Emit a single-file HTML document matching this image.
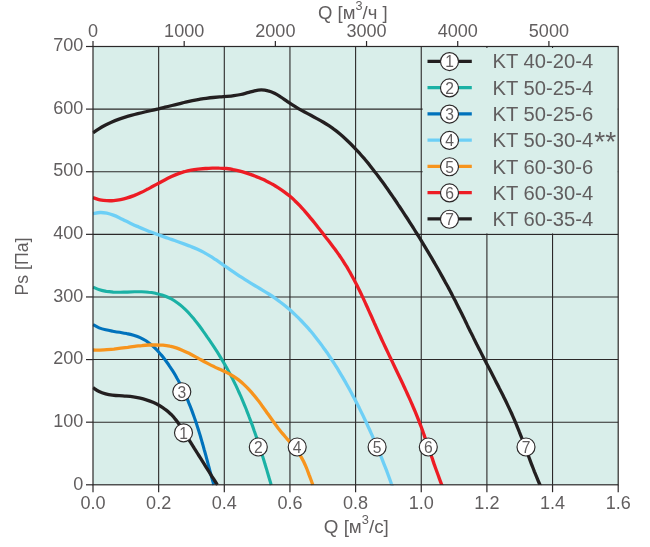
<!DOCTYPE html>
<html lang="ru"><head><meta charset="utf-8"><title>KT fan curves</title>
<style>html,body{margin:0;padding:0;background:#fff}svg{display:block}</style></head>
<body>
<svg width="650" height="547" viewBox="0 0 650 547" font-family='"Liberation Sans", "DejaVu Sans", sans-serif' fill="#615e5f">
<rect x="0" y="0" width="650" height="547" fill="#ffffff"/>
<rect x="93.0" y="46.5" width="525.2" height="438.3" fill="#d9eeea"/>
<g stroke="#2b2829" stroke-width="1.1" fill="none">
<line x1="158.65" y1="46.5" x2="158.65" y2="484.8"/>
<line x1="224.30" y1="46.5" x2="224.30" y2="484.8"/>
<line x1="289.95" y1="46.5" x2="289.95" y2="484.8"/>
<line x1="355.60" y1="46.5" x2="355.60" y2="484.8"/>
<line x1="421.25" y1="46.5" x2="421.25" y2="484.8"/>
<line x1="486.90" y1="46.5" x2="486.90" y2="484.8"/>
<line x1="552.55" y1="46.5" x2="552.55" y2="484.8"/>
<line x1="93.0" y1="422.19" x2="618.2" y2="422.19"/>
<line x1="93.0" y1="359.57" x2="618.2" y2="359.57"/>
<line x1="93.0" y1="296.96" x2="618.2" y2="296.96"/>
<line x1="93.0" y1="234.34" x2="618.2" y2="234.34"/>
<line x1="93.0" y1="171.73" x2="618.2" y2="171.73"/>
<line x1="93.0" y1="109.11" x2="618.2" y2="109.11"/>
</g>
<rect x="422.6" y="48" width="195.2" height="185.4" fill="#d9eeea"/>
<defs><clipPath id="cp"><rect x="92.5" y="46.5" width="526.2" height="438.90000000000003"/></clipPath></defs>
<g fill="none" stroke-linecap="butt" stroke-linejoin="round" clip-path="url(#cp)">
<path d="M93.0,324.6C94.0,325.1 97.0,326.9 99.1,327.8C101.3,328.7 103.5,329.3 105.7,329.8C108.0,330.4 110.4,330.8 112.7,331.2C115.0,331.6 117.4,332.0 119.8,332.3C122.1,332.7 124.5,333.1 126.8,333.6C129.1,334.0 131.4,334.5 133.6,335.2C135.8,335.9 138.0,336.6 140.1,337.6C142.1,338.5 144.1,339.6 146.0,340.8C147.9,342.1 149.7,343.5 151.5,344.9C153.3,346.4 154.9,348.0 156.6,349.7C158.2,351.4 159.7,353.1 161.2,354.9C162.8,356.7 164.2,358.6 165.6,360.5C167.0,362.4 168.4,364.3 169.7,366.3C171.0,368.2 172.2,370.2 173.5,372.2C174.7,374.1 175.9,376.2 177.0,378.2C178.2,380.2 179.3,382.3 180.3,384.3C181.4,386.4 182.4,388.5 183.4,390.6C184.4,392.7 185.4,394.8 186.3,396.9C187.3,399.1 188.2,401.2 189.0,403.4C189.9,405.5 190.8,407.7 191.6,409.9C192.4,412.1 193.2,414.3 194.0,416.5C194.8,418.7 195.5,420.9 196.3,423.1C197.0,425.3 197.7,427.6 198.4,429.8C199.1,432.0 199.8,434.3 200.5,436.5C201.1,438.8 201.8,441.0 202.4,443.3C203.1,445.5 203.7,447.8 204.3,450.0C205.0,452.3 205.6,454.6 206.2,456.8C206.8,459.1 207.4,461.3 208.0,463.6C208.6,465.8 209.2,468.1 209.8,470.3C210.4,472.6 211.0,474.8 211.6,477.1C212.2,479.3 213.1,482.4 213.5,483.8C213.8,485.1 213.7,484.8 213.8,485.0" stroke="#0072bc" stroke-width="3.1"/>
<path d="M93.0,387.7C94.0,388.3 97.0,390.5 99.1,391.5C101.2,392.5 103.4,393.2 105.6,393.8C107.8,394.4 110.0,394.8 112.3,395.1C114.6,395.4 116.9,395.6 119.2,395.7C121.5,395.9 123.9,396.0 126.2,396.2C128.6,396.4 130.9,396.6 133.3,396.9C135.6,397.2 137.9,397.7 140.2,398.2C142.5,398.7 144.8,399.4 147.0,400.1C149.3,400.8 151.5,401.7 153.6,402.6C155.8,403.6 157.8,404.7 159.8,405.8C161.9,407.0 163.8,408.3 165.6,409.7C167.5,411.1 169.2,412.6 170.9,414.2C172.5,415.8 174.1,417.6 175.5,419.4C177.0,421.2 178.3,423.1 179.6,425.0C180.9,426.9 182.1,428.9 183.3,430.9C184.6,432.9 185.8,434.9 187.0,436.8C188.3,438.8 189.5,440.7 190.8,442.7C192.0,444.7 193.3,446.6 194.5,448.6C195.8,450.6 197.0,452.5 198.2,454.5C199.5,456.5 200.7,458.5 201.9,460.4C203.2,462.4 204.4,464.4 205.6,466.4C206.9,468.4 208.1,470.4 209.4,472.3C210.6,474.3 211.8,476.3 213.1,478.2C214.4,480.2 216.2,483.0 216.9,484.1C217.6,485.2 217.4,484.9 217.5,485.0" stroke="#231f20" stroke-width="3.3"/>
<path d="M93.0,287.2C94.1,287.6 97.3,289.1 99.5,289.8C101.7,290.5 104.0,291.0 106.3,291.4C108.6,291.7 110.9,291.9 113.2,292.1C115.5,292.2 117.9,292.2 120.3,292.2C122.6,292.2 125.0,292.1 127.4,292.1C129.8,292.0 132.2,291.9 134.5,291.8C136.9,291.8 139.3,291.8 141.6,291.8C144.0,291.9 146.3,292.0 148.6,292.3C151.0,292.5 153.3,292.9 155.5,293.3C157.7,293.8 160.0,294.3 162.1,295.0C164.3,295.7 166.4,296.5 168.4,297.5C170.5,298.4 172.5,299.5 174.4,300.7C176.3,302.0 178.2,303.3 180.0,304.8C181.8,306.2 183.5,307.8 185.2,309.4C186.9,311.0 188.5,312.7 190.1,314.5C191.7,316.2 193.2,318.1 194.7,319.9C196.2,321.7 197.7,323.6 199.1,325.5C200.5,327.4 201.9,329.3 203.3,331.3C204.7,333.2 206.0,335.1 207.3,337.1C208.7,339.0 210.0,340.9 211.3,342.9C212.6,344.8 213.9,346.8 215.1,348.7C216.4,350.7 217.7,352.7 218.9,354.6C220.1,356.6 221.3,358.6 222.5,360.6C223.7,362.6 224.9,364.6 226.0,366.6C227.2,368.6 228.3,370.7 229.4,372.7C230.5,374.8 231.5,376.8 232.6,378.9C233.6,381.0 234.7,383.1 235.7,385.1C236.7,387.2 237.7,389.4 238.6,391.5C239.6,393.6 240.5,395.7 241.5,397.8C242.4,400.0 243.3,402.1 244.2,404.3C245.1,406.4 245.9,408.6 246.8,410.8C247.7,412.9 248.5,415.1 249.3,417.3C250.2,419.5 251.0,421.7 251.8,423.9C252.6,426.1 253.4,428.3 254.1,430.5C254.9,432.7 255.7,434.9 256.4,437.1C257.2,439.3 257.9,441.5 258.6,443.8C259.4,446.0 260.1,448.2 260.8,450.5C261.5,452.7 262.2,454.9 262.9,457.1C263.6,459.4 264.3,461.6 264.9,463.8C265.6,466.1 266.3,468.3 267.0,470.6C267.6,472.8 268.3,475.0 268.9,477.3C269.6,479.5 270.5,482.7 270.9,483.9C271.3,485.2 271.1,484.8 271.2,485.0" stroke="#1bb1a5" stroke-width="3.1"/>
<path d="M93.0,350.0C94.2,350.0 97.7,350.1 100.0,350.1C102.4,350.0 104.7,349.9 107.0,349.7C109.3,349.5 111.6,349.3 113.9,349.1C116.2,348.8 118.5,348.5 120.8,348.2C123.2,347.9 125.5,347.6 127.8,347.3C130.1,346.9 132.4,346.6 134.7,346.3C137.0,346.1 139.4,345.8 141.7,345.6C144.0,345.3 146.4,345.1 148.8,345.0C151.1,344.9 153.5,344.8 155.8,344.8C158.2,344.9 160.5,345.0 162.9,345.2C165.2,345.4 167.5,345.7 169.7,346.2C172.0,346.6 174.2,347.2 176.3,347.9C178.5,348.6 180.6,349.5 182.7,350.4C184.9,351.3 186.9,352.3 189.0,353.3C191.1,354.4 193.1,355.5 195.2,356.6C197.2,357.7 199.3,358.9 201.4,360.0C203.4,361.2 205.5,362.3 207.6,363.4C209.7,364.5 211.8,365.6 214.0,366.6C216.1,367.7 218.3,368.6 220.5,369.6C222.6,370.6 224.8,371.5 226.9,372.6C229.0,373.7 231.0,374.8 232.9,376.0C234.9,377.2 236.8,378.5 238.6,379.9C240.4,381.3 242.1,382.8 243.8,384.4C245.4,385.9 247.1,387.5 248.6,389.2C250.2,390.9 251.7,392.6 253.2,394.4C254.7,396.1 256.2,398.0 257.6,399.8C259.1,401.6 260.5,403.5 261.8,405.4C263.2,407.3 264.6,409.2 266.0,411.2C267.3,413.1 268.7,415.0 270.1,417.0C271.4,418.9 272.8,420.8 274.2,422.7C275.6,424.6 277.0,426.5 278.4,428.4C279.8,430.2 281.3,432.1 282.8,433.9C284.3,435.7 285.8,437.4 287.3,439.2C288.8,440.9 290.4,442.6 291.8,444.4C293.3,446.2 294.8,447.9 296.2,449.8C297.6,451.6 298.9,453.4 300.2,455.4C301.4,457.4 302.5,459.4 303.6,461.5C304.6,463.6 305.6,465.8 306.5,468.0C307.4,470.2 308.2,472.4 309.0,474.6C309.9,476.8 310.8,479.5 311.5,481.2C312.1,483.0 312.7,484.4 312.9,485.0" stroke="#f7941d" stroke-width="3.3"/>
<path d="M93.0,213.7C94.2,213.5 97.8,212.6 100.1,212.5C102.4,212.4 104.6,212.7 106.8,213.1C109.0,213.6 111.2,214.3 113.3,215.1C115.5,215.9 117.6,216.9 119.7,217.9C121.8,218.9 123.8,220.1 125.9,221.1C128.1,222.1 130.2,223.2 132.3,224.2C134.4,225.2 136.6,226.1 138.7,227.0C140.8,228.0 143.0,228.9 145.2,229.7C147.3,230.6 149.5,231.5 151.7,232.3C153.9,233.1 156.1,233.9 158.2,234.7C160.4,235.5 162.6,236.3 164.8,237.1C167.0,237.9 169.2,238.6 171.4,239.4C173.6,240.2 175.8,240.9 178.0,241.7C180.2,242.5 182.4,243.3 184.6,244.1C186.8,244.9 189.0,245.7 191.1,246.6C193.3,247.4 195.4,248.3 197.5,249.3C199.6,250.3 201.7,251.3 203.8,252.4C205.8,253.5 207.8,254.7 209.8,255.9C211.8,257.1 213.7,258.4 215.7,259.7C217.6,261.0 219.6,262.3 221.5,263.6C223.4,265.0 225.3,266.3 227.3,267.6C229.2,269.0 231.1,270.3 233.0,271.6C235.0,273.0 236.9,274.3 238.8,275.6C240.8,276.9 242.7,278.2 244.7,279.4C246.7,280.7 248.7,281.9 250.7,283.1C252.7,284.4 254.7,285.5 256.7,286.7C258.7,287.9 260.8,289.1 262.8,290.3C264.8,291.5 266.8,292.7 268.8,294.0C270.7,295.2 272.7,296.5 274.6,297.9C276.5,299.2 278.4,300.6 280.2,302.0C282.1,303.4 283.9,304.8 285.7,306.3C287.5,307.8 289.2,309.3 291.0,310.8C292.7,312.4 294.4,314.0 296.1,315.6C297.7,317.2 299.4,318.8 301.0,320.5C302.6,322.2 304.2,323.9 305.8,325.6C307.3,327.3 308.9,329.1 310.4,330.8C311.9,332.6 313.4,334.4 314.8,336.2C316.3,338.1 317.7,339.9 319.1,341.8C320.6,343.6 321.9,345.5 323.3,347.4C324.7,349.3 326.0,351.2 327.4,353.1C328.7,355.1 330.0,357.0 331.3,359.0C332.6,360.9 333.8,362.9 335.1,364.9C336.3,366.8 337.6,368.8 338.8,370.8C340.0,372.8 341.2,374.8 342.4,376.9C343.6,378.9 344.7,380.9 345.9,382.9C347.0,385.0 348.2,387.0 349.3,389.1C350.4,391.1 351.6,393.2 352.6,395.2C353.7,397.3 354.8,399.3 355.9,401.4C357.0,403.5 358.0,405.5 359.1,407.6C360.1,409.7 361.1,411.8 362.2,413.9C363.2,416.0 364.2,418.1 365.2,420.2C366.2,422.3 367.2,424.4 368.1,426.5C369.1,428.6 370.1,430.8 371.0,432.9C372.0,435.0 372.9,437.1 373.8,439.3C374.7,441.4 375.7,443.6 376.6,445.7C377.5,447.9 378.4,450.0 379.3,452.2C380.1,454.3 381.0,456.5 381.9,458.7C382.7,460.8 383.6,463.0 384.4,465.2C385.3,467.3 386.1,469.5 387.0,471.7C387.8,473.9 388.6,476.1 389.4,478.3C390.2,480.5 391.4,483.7 391.8,484.9C392.3,486.0 391.9,485.0 391.9,485.0" stroke="#6dcff6" stroke-width="3.3"/>
<path d="M93.0,197.7C94.2,198.0 97.6,199.3 99.9,199.8C102.2,200.3 104.6,200.6 106.9,200.7C109.2,200.8 111.5,200.8 113.7,200.6C116.0,200.4 118.3,200.1 120.6,199.6C122.8,199.2 125.1,198.6 127.3,197.9C129.5,197.2 131.7,196.4 133.9,195.6C136.1,194.7 138.2,193.8 140.4,192.8C142.5,191.8 144.6,190.7 146.7,189.6C148.8,188.6 150.8,187.4 152.9,186.3C155.0,185.2 157.0,184.1 159.1,183.0C161.1,181.8 163.2,180.7 165.2,179.7C167.3,178.6 169.4,177.6 171.5,176.6C173.6,175.6 175.7,174.7 177.9,173.9C180.0,173.1 182.2,172.3 184.4,171.7C186.6,171.0 188.9,170.5 191.2,170.1C193.5,169.7 195.8,169.4 198.2,169.1C200.5,168.9 202.9,168.7 205.3,168.5C207.6,168.4 210.0,168.2 212.3,168.1C214.7,168.1 217.0,168.0 219.3,168.1C221.7,168.1 224.0,168.3 226.3,168.5C228.6,168.8 230.9,169.1 233.2,169.6C235.4,170.0 237.7,170.5 239.9,171.1C242.2,171.7 244.4,172.4 246.6,173.1C248.9,173.8 251.1,174.6 253.2,175.4C255.4,176.2 257.6,177.1 259.8,178.0C261.9,179.0 264.1,179.9 266.2,181.0C268.3,182.0 270.3,183.1 272.4,184.2C274.4,185.4 276.4,186.6 278.4,187.8C280.4,189.1 282.3,190.4 284.2,191.8C286.0,193.1 287.9,194.6 289.7,196.1C291.4,197.5 293.2,199.1 294.8,200.7C296.5,202.3 298.2,203.9 299.8,205.6C301.4,207.3 302.9,209.0 304.5,210.8C306.0,212.5 307.5,214.3 309.0,216.1C310.5,217.9 312.0,219.8 313.5,221.6C314.9,223.4 316.4,225.3 317.8,227.1C319.3,229.0 320.7,230.8 322.2,232.6C323.6,234.5 325.1,236.3 326.5,238.2C328.0,240.0 329.4,241.9 330.8,243.7C332.2,245.6 333.6,247.5 335.0,249.3C336.4,251.2 337.7,253.1 339.1,255.0C340.4,256.9 341.7,258.9 343.0,260.8C344.2,262.8 345.4,264.7 346.7,266.7C347.9,268.7 349.0,270.7 350.2,272.7C351.3,274.8 352.4,276.8 353.5,278.8C354.6,280.9 355.7,283.0 356.8,285.0C357.8,287.1 358.9,289.2 359.9,291.3C360.9,293.4 361.9,295.5 362.9,297.6C363.9,299.7 364.9,301.8 365.8,304.0C366.8,306.1 367.8,308.2 368.7,310.4C369.7,312.5 370.6,314.6 371.6,316.8C372.5,318.9 373.5,321.1 374.4,323.2C375.4,325.3 376.3,327.5 377.3,329.6C378.2,331.8 379.2,333.9 380.2,336.0C381.1,338.1 382.1,340.3 383.1,342.4C384.1,344.5 385.1,346.6 386.1,348.7C387.1,350.8 388.1,353.0 389.1,355.1C390.1,357.2 391.1,359.3 392.1,361.4C393.1,363.5 394.1,365.6 395.1,367.7C396.1,369.8 397.1,371.9 398.1,374.0C399.1,376.1 400.1,378.2 401.1,380.3C402.1,382.4 403.1,384.5 404.1,386.7C405.1,388.8 406.0,390.9 407.0,393.0C408.0,395.1 408.9,397.2 409.9,399.4C410.8,401.5 411.7,403.6 412.7,405.8C413.6,407.9 414.5,410.1 415.4,412.2C416.3,414.4 417.1,416.5 418.0,418.7C418.9,420.9 419.7,423.0 420.5,425.2C421.4,427.4 422.2,429.6 423.0,431.8C423.8,434.0 424.5,436.2 425.3,438.4C426.1,440.6 426.9,442.8 427.6,445.0C428.4,447.2 429.1,449.4 429.9,451.7C430.7,453.9 431.4,456.1 432.2,458.3C432.9,460.5 433.7,462.7 434.4,464.9C435.2,467.1 436.0,469.3 436.8,471.5C437.6,473.7 438.4,475.9 439.2,478.1C440.0,480.3 441.2,483.5 441.7,484.6C442.1,485.8 441.8,484.9 441.8,485.0" stroke="#ed1c24" stroke-width="3.3"/>
<path d="M93.0,132.9C94.0,132.2 96.9,130.1 98.9,128.8C100.9,127.5 103.0,126.3 105.1,125.2C107.1,124.1 109.2,123.1 111.4,122.2C113.5,121.3 115.6,120.4 117.8,119.6C120.0,118.8 122.2,118.1 124.4,117.4C126.6,116.7 128.8,116.0 131.1,115.4C133.3,114.8 135.6,114.2 137.8,113.6C140.1,113.1 142.4,112.6 144.6,112.0C146.9,111.5 149.2,111.0 151.5,110.5C153.7,109.9 156.0,109.4 158.3,108.9C160.6,108.3 162.9,107.8 165.1,107.2C167.4,106.7 169.7,106.1 172.0,105.5C174.2,105.0 176.5,104.4 178.8,103.8C181.0,103.3 183.3,102.7 185.6,102.2C187.9,101.7 190.1,101.2 192.4,100.7C194.7,100.2 197.0,99.8 199.3,99.4C201.6,99.0 203.8,98.6 206.1,98.3C208.4,98.0 210.7,97.7 213.1,97.5C215.4,97.3 217.7,97.1 220.0,96.9C222.3,96.7 224.7,96.6 227.0,96.4C229.3,96.2 231.6,96.0 233.9,95.6C236.2,95.3 238.5,95.0 240.8,94.5C243.1,94.0 245.4,93.3 247.7,92.7C250.0,92.1 252.2,91.3 254.5,90.8C256.8,90.3 259.0,89.9 261.3,89.9C263.6,89.9 265.9,90.2 268.1,90.8C270.3,91.3 272.4,92.2 274.5,93.2C276.6,94.2 278.6,95.5 280.6,96.8C282.6,98.0 284.5,99.5 286.5,100.9C288.4,102.2 290.4,103.6 292.4,104.9C294.4,106.2 296.4,107.4 298.4,108.6C300.5,109.8 302.5,110.9 304.6,112.0C306.7,113.1 308.7,114.2 310.8,115.3C312.8,116.4 314.9,117.5 316.9,118.6C319.0,119.7 321.0,120.8 323.0,122.0C325.0,123.2 326.9,124.4 328.9,125.7C330.8,127.0 332.7,128.3 334.5,129.7C336.4,131.1 338.2,132.6 340.0,134.1C341.8,135.6 343.5,137.1 345.3,138.7C347.0,140.3 348.7,141.9 350.3,143.5C352.0,145.2 353.6,146.9 355.2,148.6C356.8,150.3 358.4,152.0 360.0,153.7C361.5,155.5 363.1,157.3 364.6,159.0C366.1,160.8 367.6,162.6 369.1,164.4C370.5,166.2 372.0,168.1 373.4,169.9C374.8,171.8 376.3,173.6 377.7,175.5C379.1,177.3 380.4,179.2 381.8,181.1C383.2,183.0 384.6,184.9 385.9,186.8C387.3,188.7 388.6,190.6 389.9,192.5C391.3,194.4 392.6,196.4 393.9,198.3C395.2,200.2 396.5,202.1 397.8,204.1C399.1,206.0 400.4,208.0 401.7,209.9C403.0,211.9 404.3,213.8 405.5,215.8C406.8,217.7 408.1,219.7 409.3,221.6C410.6,223.6 411.8,225.6 413.1,227.5C414.3,229.5 415.5,231.5 416.8,233.5C418.0,235.4 419.2,237.4 420.5,239.4C421.7,241.4 422.9,243.4 424.1,245.4C425.3,247.4 426.5,249.4 427.7,251.4C428.9,253.4 430.1,255.4 431.3,257.4C432.5,259.4 433.6,261.4 434.8,263.5C436.0,265.5 437.2,267.5 438.3,269.5C439.5,271.6 440.6,273.6 441.7,275.6C442.9,277.7 444.0,279.7 445.1,281.8C446.3,283.8 447.4,285.9 448.5,287.9C449.6,290.0 450.7,292.0 451.8,294.1C452.8,296.2 453.9,298.2 455.0,300.3C456.0,302.4 457.1,304.5 458.1,306.6C459.2,308.6 460.2,310.7 461.3,312.8C462.3,314.9 463.3,317.0 464.4,319.1C465.4,321.2 466.4,323.3 467.4,325.4C468.5,327.5 469.5,329.6 470.5,331.7C471.6,333.7 472.6,335.8 473.6,337.9C474.7,340.0 475.7,342.1 476.7,344.2C477.8,346.3 478.8,348.4 479.9,350.4C480.9,352.5 482.0,354.6 483.1,356.7C484.1,358.8 485.2,360.8 486.3,362.9C487.4,365.0 488.4,367.0 489.5,369.1C490.6,371.2 491.7,373.3 492.7,375.3C493.8,377.4 494.9,379.5 495.9,381.6C497.0,383.6 498.1,385.7 499.1,387.8C500.2,389.9 501.3,391.9 502.3,394.0C503.3,396.1 504.4,398.2 505.4,400.3C506.4,402.4 507.4,404.5 508.4,406.6C509.4,408.7 510.4,410.8 511.4,413.0C512.3,415.1 513.3,417.2 514.2,419.4C515.1,421.5 516.0,423.6 516.9,425.8C517.8,428.0 518.7,430.1 519.5,432.3C520.4,434.5 521.2,436.6 522.1,438.8C522.9,441.0 523.7,443.2 524.5,445.4C525.3,447.6 526.2,449.8 527.0,451.9C527.8,454.1 528.6,456.3 529.4,458.5C530.2,460.7 531.1,462.9 531.9,465.1C532.7,467.2 533.6,469.4 534.4,471.6C535.3,473.7 536.2,475.9 537.1,478.1C537.9,480.2 539.3,483.4 539.8,484.5C540.3,485.7 540.0,484.9 540.0,485.0" stroke="#231f20" stroke-width="3.3"/>
</g>
<g stroke="#2b2829" stroke-width="1.2" fill="none">
<rect x="93.0" y="46.5" width="525.2" height="438.3"/>
<line x1="93.00" y1="484.8" x2="93.00" y2="492.2"/>
<line x1="158.65" y1="484.8" x2="158.65" y2="492.2"/>
<line x1="224.30" y1="484.8" x2="224.30" y2="492.2"/>
<line x1="289.95" y1="484.8" x2="289.95" y2="492.2"/>
<line x1="355.60" y1="484.8" x2="355.60" y2="492.2"/>
<line x1="421.25" y1="484.8" x2="421.25" y2="492.2"/>
<line x1="486.90" y1="484.8" x2="486.90" y2="492.2"/>
<line x1="552.55" y1="484.8" x2="552.55" y2="492.2"/>
<line x1="618.20" y1="484.8" x2="618.20" y2="492.2"/>
<line x1="86.0" y1="484.80" x2="93.0" y2="484.80"/>
<line x1="86.0" y1="422.19" x2="93.0" y2="422.19"/>
<line x1="86.0" y1="359.57" x2="93.0" y2="359.57"/>
<line x1="86.0" y1="296.96" x2="93.0" y2="296.96"/>
<line x1="86.0" y1="234.34" x2="93.0" y2="234.34"/>
<line x1="86.0" y1="171.73" x2="93.0" y2="171.73"/>
<line x1="86.0" y1="109.11" x2="93.0" y2="109.11"/>
<line x1="86.0" y1="46.50" x2="93.0" y2="46.50"/>
<line x1="93.00" y1="41.0" x2="93.00" y2="46.5"/>
<line x1="184.18" y1="41.0" x2="184.18" y2="46.5"/>
<line x1="275.36" y1="41.0" x2="275.36" y2="46.5"/>
<line x1="366.54" y1="41.0" x2="366.54" y2="46.5"/>
<line x1="457.72" y1="41.0" x2="457.72" y2="46.5"/>
<line x1="548.90" y1="41.0" x2="548.90" y2="46.5"/>
</g>
<text transform="translate(93.00,508.80) scale(0.95,1)" text-anchor="middle" font-size="19" >0.0</text>
<text transform="translate(158.65,508.80) scale(0.95,1)" text-anchor="middle" font-size="19" >0.2</text>
<text transform="translate(224.30,508.80) scale(0.95,1)" text-anchor="middle" font-size="19" >0.4</text>
<text transform="translate(289.95,508.80) scale(0.95,1)" text-anchor="middle" font-size="19" >0.6</text>
<text transform="translate(355.60,508.80) scale(0.95,1)" text-anchor="middle" font-size="19" >0.8</text>
<text transform="translate(421.25,508.80) scale(0.95,1)" text-anchor="middle" font-size="19" >1.0</text>
<text transform="translate(486.90,508.80) scale(0.95,1)" text-anchor="middle" font-size="19" >1.2</text>
<text transform="translate(552.55,508.80) scale(0.95,1)" text-anchor="middle" font-size="19" >1.4</text>
<text transform="translate(618.20,508.80) scale(0.95,1)" text-anchor="middle" font-size="19" >1.6</text>
<text transform="translate(83.30,489.50) scale(0.95,1)" text-anchor="end" font-size="19" >0</text>
<text transform="translate(83.30,426.89) scale(0.95,1)" text-anchor="end" font-size="19" >100</text>
<text transform="translate(83.30,364.27) scale(0.95,1)" text-anchor="end" font-size="19" >200</text>
<text transform="translate(83.30,301.66) scale(0.95,1)" text-anchor="end" font-size="19" >300</text>
<text transform="translate(83.30,239.04) scale(0.95,1)" text-anchor="end" font-size="19" >400</text>
<text transform="translate(83.30,176.43) scale(0.95,1)" text-anchor="end" font-size="19" >500</text>
<text transform="translate(83.30,113.81) scale(0.95,1)" text-anchor="end" font-size="19" >600</text>
<text transform="translate(83.30,51.20) scale(0.95,1)" text-anchor="end" font-size="19" >700</text>
<text transform="translate(93.00,37.30) scale(0.95,1)" text-anchor="middle" font-size="19" >0</text>
<text transform="translate(184.18,37.30) scale(0.95,1)" text-anchor="middle" font-size="19" >1000</text>
<text transform="translate(275.36,37.30) scale(0.95,1)" text-anchor="middle" font-size="19" >2000</text>
<text transform="translate(366.54,37.30) scale(0.95,1)" text-anchor="middle" font-size="19" >3000</text>
<text transform="translate(457.72,37.30) scale(0.95,1)" text-anchor="middle" font-size="19" >4000</text>
<text transform="translate(548.90,37.30) scale(0.95,1)" text-anchor="middle" font-size="19" >5000</text>
<text id="tt" transform="translate(352.8,19.2) scale(0.975,1)" text-anchor="middle" font-size="19">Q [м<tspan font-size="13" dy="-9.2">3</tspan><tspan dy="9.2">/ч ]</tspan></text>
<text id="tb" transform="translate(356.3,533.2) scale(0.99,1)" text-anchor="middle" font-size="19">Q [м<tspan font-size="13" dy="-9.2">3</tspan><tspan dy="9.2">/с]</tspan></text>
<text id="tl" transform="translate(27.9,266.5) rotate(-90) scale(0.93,1)" text-anchor="middle" font-size="19">Ps [Па]</text>
<circle cx="183.5" cy="432.8" r="9.0" fill="#fff" stroke="#2b2829" stroke-width="1.15"/>
<text transform="translate(183.5,438.6) scale(0.95,1)" text-anchor="middle" font-size="16.5">1</text>
<circle cx="181.8" cy="391.7" r="9.0" fill="#fff" stroke="#2b2829" stroke-width="1.15"/>
<text transform="translate(181.8,397.5) scale(0.95,1)" text-anchor="middle" font-size="16.5">3</text>
<circle cx="258.3" cy="447" r="9.0" fill="#fff" stroke="#2b2829" stroke-width="1.15"/>
<text transform="translate(258.3,452.8) scale(0.95,1)" text-anchor="middle" font-size="16.5">2</text>
<circle cx="297.2" cy="447" r="9.0" fill="#fff" stroke="#2b2829" stroke-width="1.15"/>
<text transform="translate(297.2,452.8) scale(0.95,1)" text-anchor="middle" font-size="16.5">4</text>
<circle cx="377.1" cy="447" r="9.0" fill="#fff" stroke="#2b2829" stroke-width="1.15"/>
<text transform="translate(377.1,452.8) scale(0.95,1)" text-anchor="middle" font-size="16.5">5</text>
<circle cx="428.3" cy="447" r="9.0" fill="#fff" stroke="#2b2829" stroke-width="1.15"/>
<text transform="translate(428.3,452.8) scale(0.95,1)" text-anchor="middle" font-size="16.5">6</text>
<circle cx="526" cy="447" r="9.0" fill="#fff" stroke="#2b2829" stroke-width="1.15"/>
<text transform="translate(526,452.8) scale(0.95,1)" text-anchor="middle" font-size="16.5">7</text>
<line x1="427.5" y1="61.3" x2="471.8" y2="61.3" stroke="#231f20" stroke-width="3.3"/>
<circle cx="449.5" cy="61.599999999999994" r="9.0" fill="#fff" stroke="#2b2829" stroke-width="1.15"/>
<text transform="translate(449.5,67.39999999999999) scale(0.95,1)" text-anchor="middle" font-size="16.5">1</text>
<text transform="translate(492.5,68.4) scale(1.01,1)" font-size="20">KT 40-20-4</text>
<line x1="427.5" y1="87.6" x2="471.8" y2="87.6" stroke="#1bb1a5" stroke-width="3.3"/>
<circle cx="449.5" cy="87.89999999999999" r="9.0" fill="#fff" stroke="#2b2829" stroke-width="1.15"/>
<text transform="translate(449.5,93.69999999999999) scale(0.95,1)" text-anchor="middle" font-size="16.5">2</text>
<text transform="translate(492.5,94.7) scale(1.01,1)" font-size="20">KT 50-25-4</text>
<line x1="427.5" y1="113.8" x2="471.8" y2="113.8" stroke="#0072bc" stroke-width="3.3"/>
<circle cx="449.5" cy="114.1" r="9.0" fill="#fff" stroke="#2b2829" stroke-width="1.15"/>
<text transform="translate(449.5,119.89999999999999) scale(0.95,1)" text-anchor="middle" font-size="16.5">3</text>
<text transform="translate(492.5,120.9) scale(1.01,1)" font-size="20">KT 50-25-6</text>
<line x1="427.5" y1="140.1" x2="471.8" y2="140.1" stroke="#6dcff6" stroke-width="3.3"/>
<circle cx="449.5" cy="140.4" r="9.0" fill="#fff" stroke="#2b2829" stroke-width="1.15"/>
<text transform="translate(449.5,146.20000000000002) scale(0.95,1)" text-anchor="middle" font-size="16.5">4</text>
<text transform="translate(492.5,147.2) scale(1.01,1)" font-size="20">KT 50-30-4<tspan font-size="28" dx="1" dy="3.6">**</tspan></text>
<line x1="427.5" y1="166.4" x2="471.8" y2="166.4" stroke="#f7941d" stroke-width="3.3"/>
<circle cx="449.5" cy="166.70000000000002" r="9.0" fill="#fff" stroke="#2b2829" stroke-width="1.15"/>
<text transform="translate(449.5,172.50000000000003) scale(0.95,1)" text-anchor="middle" font-size="16.5">5</text>
<text transform="translate(492.5,173.5) scale(1.01,1)" font-size="20">KT 60-30-6</text>
<line x1="427.5" y1="192.6" x2="471.8" y2="192.6" stroke="#ed1c24" stroke-width="3.3"/>
<circle cx="449.5" cy="192.9" r="9.0" fill="#fff" stroke="#2b2829" stroke-width="1.15"/>
<text transform="translate(449.5,198.70000000000002) scale(0.95,1)" text-anchor="middle" font-size="16.5">6</text>
<text transform="translate(492.5,199.7) scale(1.01,1)" font-size="20">KT 60-30-4</text>
<line x1="427.5" y1="218.9" x2="471.8" y2="218.9" stroke="#231f20" stroke-width="3.3"/>
<circle cx="449.5" cy="219.20000000000002" r="9.0" fill="#fff" stroke="#2b2829" stroke-width="1.15"/>
<text transform="translate(449.5,225.00000000000003) scale(0.95,1)" text-anchor="middle" font-size="16.5">7</text>
<text transform="translate(492.5,226.0) scale(1.01,1)" font-size="20">KT 60-35-4</text>
</svg>
</body></html>
